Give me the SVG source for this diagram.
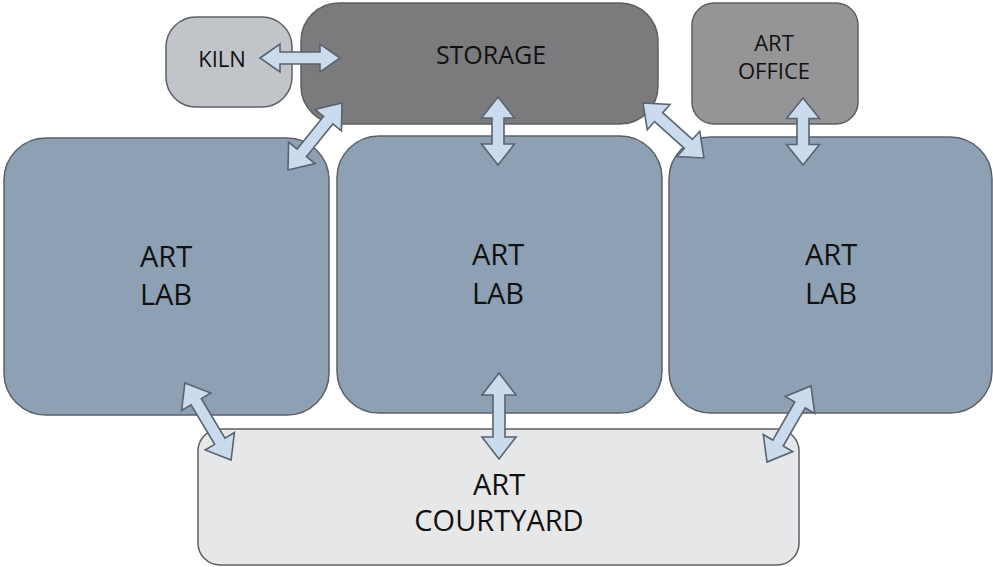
<svg xmlns="http://www.w3.org/2000/svg" width="993" height="567" viewBox="0 0 993 567">
<style>
.box{stroke:#5c5f63;stroke-width:1.5}
.lab{fill:#8da0b4}
.storage{fill:#7b7b7d}
.kiln{fill:#c1c5c9}
.office{fill:#959597}
.court{fill:#e6e7e9}
.arr{fill:#c9dbec;stroke:#5a6370;stroke-width:1.6;stroke-linejoin:miter}
text{font-family:"Open Sans","Liberation Sans",sans-serif;fill:#111111;text-anchor:middle}
.big{font-size:29px}
.mid{font-size:25px}
.sm{font-size:22px}
</style>
<rect width="993" height="567" fill="#ffffff"/>
<g id="lab-left"><rect class="box lab" x="4" y="138" width="325" height="277" rx="42"/><text class="big" x="166" y="267">ART</text><text class="big" x="166" y="305">LAB</text></g>
<g id="lab-middle"><rect class="box lab" x="337" y="136" width="325" height="277" rx="42"/><text class="big" x="498" y="265">ART</text><text class="big" x="498" y="304">LAB</text></g>
<g id="lab-right"><rect class="box lab" x="669" y="137" width="323" height="276" rx="42"/><text class="big" x="831" y="265">ART</text><text class="big" x="831" y="304">LAB</text></g>
<g id="storage"><rect class="box storage" x="301" y="3" width="357" height="121" rx="38"/><text class="mid" x="491" y="64">STORAGE</text></g>
<g id="kiln"><rect class="box kiln" x="166" y="17" width="126" height="90" rx="30"/><text class="sm" x="222" y="67">KILN</text></g>
<g id="office"><rect class="box office" x="692" y="3" width="166" height="121" rx="22"/><text class="sm" x="774" y="51">ART</text><text class="sm" x="774" y="79">OFFICE</text></g>
<g id="courtyard"><rect class="box court" x="198" y="429" width="601" height="136" rx="22"/><text class="big" x="499" y="495">ART</text><text class="big" x="499" y="531">COURTYARD</text></g>
<g id="connectors">
<path class="arr" transform="translate(300,58)" d="M-40,0 L-20,-14 L-20,-6 L20,-6 L20,-14 L40,0 L20,14 L20,6 L-20,6 L-20,14 Z"/>
<path class="arr" transform="translate(315,136.5) rotate(-51.1)" d="M-43,0 L-21,-17 L-21,-6 L21,-6 L21,-17 L43,0 L21,17 L21,6 L-21,6 L-21,17 Z"/>
<path class="arr" transform="translate(498,131) rotate(90)" d="M-34,0 L-13,-16.5 L-13,-6 L13,-6 L13,-16.5 L34,0 L13,16.5 L13,6 L-13,6 L-13,16.5 Z"/>
<path class="arr" transform="translate(673.5,130.5) rotate(42)" d="M-41,0 L-20,-17 L-20,-6 L20,-6 L20,-17 L41,0 L20,17 L20,6 L-20,6 L-20,17 Z"/>
<path class="arr" transform="translate(803,131.5) rotate(90)" d="M-33.5,0 L-13,-16.5 L-13,-6 L13,-6 L13,-16.5 L33.5,0 L13,16.5 L13,6 L-13,6 L-13,16.5 Z"/>
<path class="arr" transform="translate(208,421.5) rotate(59.1)" d="M-45,0 L-23,-17 L-23,-6 L23,-6 L23,-17 L45,0 L23,17 L23,6 L-23,6 L-23,17 Z"/>
<path class="arr" transform="translate(499,416) rotate(90)" d="M-43,0 L-21,-17 L-21,-6 L21,-6 L21,-17 L43,0 L21,17 L21,6 L-21,6 L-21,17 Z"/>
<path class="arr" transform="translate(789,424) rotate(120)" d="M-44,0 L-22,-17 L-22,-6 L22,-6 L22,-17 L44,0 L22,17 L22,6 L-22,6 L-22,17 Z"/>
</g>
</svg>
